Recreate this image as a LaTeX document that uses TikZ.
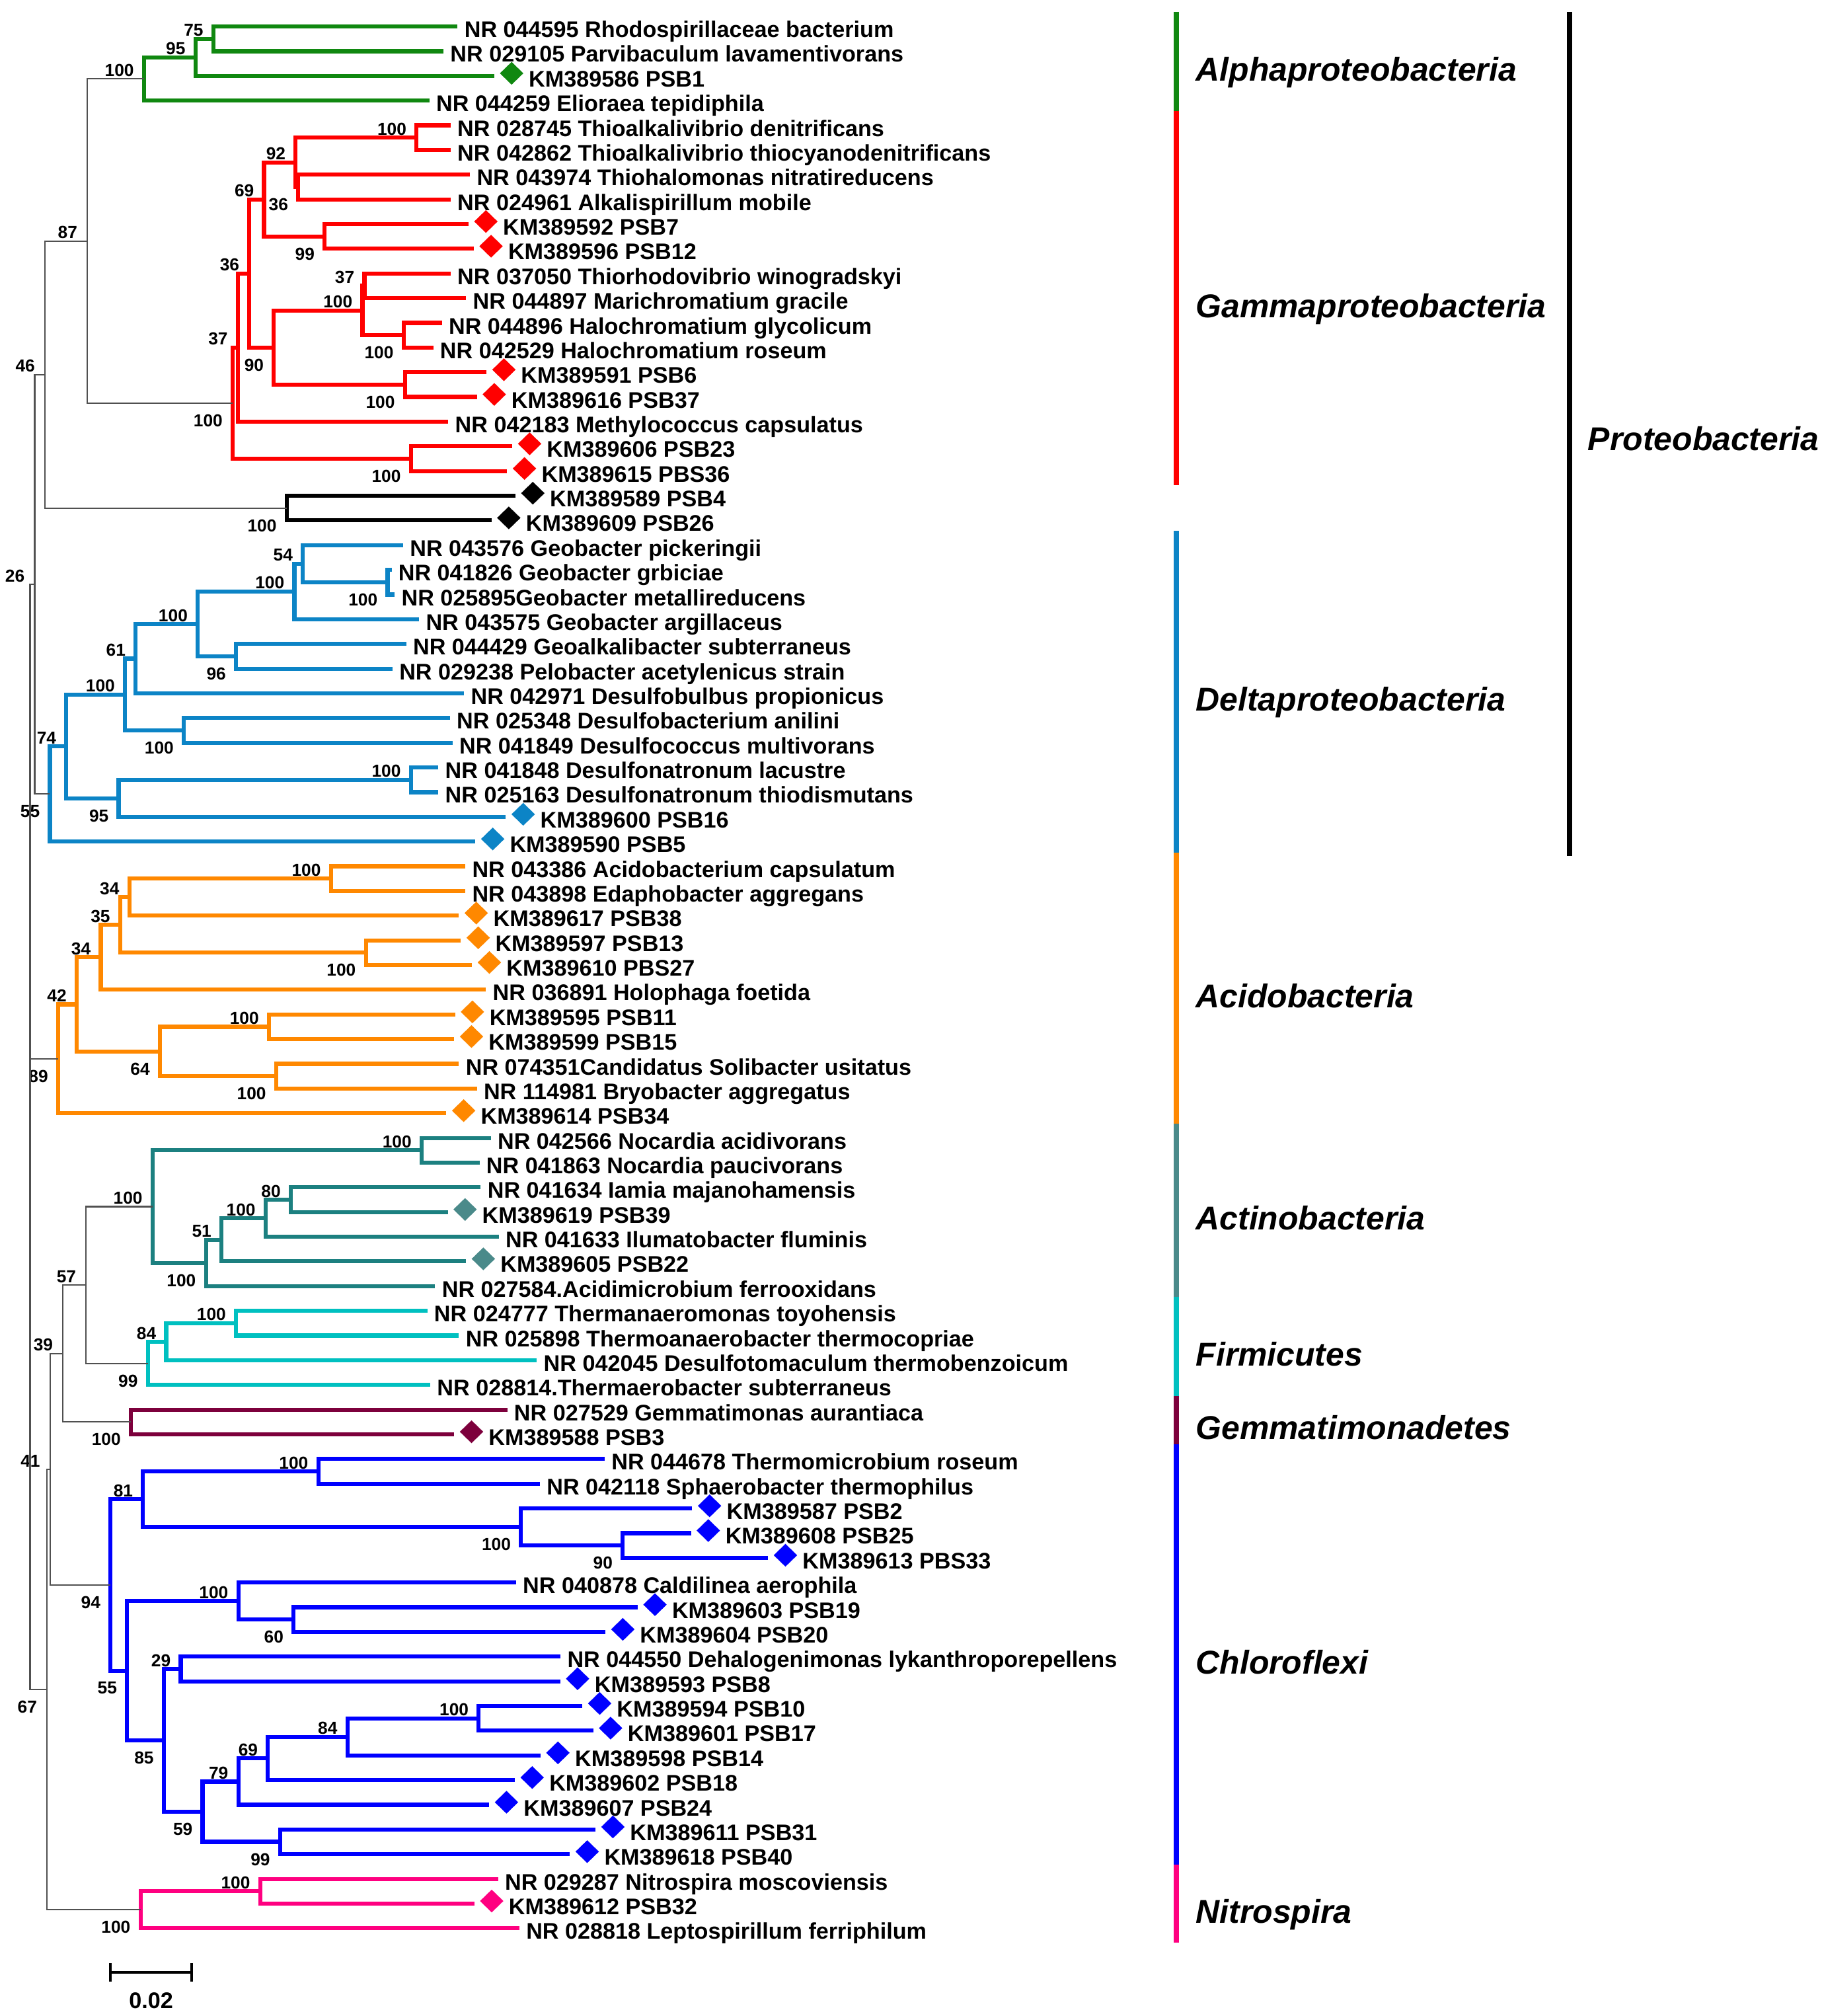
\documentclass[tikz,border=0pt]{standalone}
\usepackage{fontspec}
\setmainfont{Liberation Sans}
\usetikzlibrary{calc, shapes.geometric}
\definecolor{alphaColor}{RGB}{16,136,16}
\definecolor{gammaColor}{RGB}{255,0,0}
\definecolor{deltaColor}{RGB}{12,132,198}
\definecolor{acidoColor}{RGB}{255,136,0}
\definecolor{actinoColor}{RGB}{28,128,128}
\definecolor{actinoMark}{RGB}{74,138,138}
\definecolor{firmColor}{RGB}{0,192,192}
\definecolor{gemmaColor}{RGB}{125,0,60}
\definecolor{chloroColor}{RGB}{0,0,255}
\definecolor{nitroColor}{RGB}{255,0,128}
\definecolor{backboneColor}{RGB}{80,80,80}
\tikzstyle{treeFrame} = [x = .02cm, y = -.02cm]
\tikzstyle{backbone} = [color=backboneColor, line width=.6pt]
\tikzstyle{cladeLine} = [line width=1.8pt]
\tikzstyle{leafText} = [anchor=base west, inner sep=0pt, font=\fontsize{10}{12}\selectfont\bfseries]
\tikzstyle{sampleMark} = [diamond, inner sep=0pt, minimum width=.37cm, minimum height=.36cm]
\tikzstyle{bootUp} = [anchor=south east, inner sep=0pt, xshift=-.15cm, yshift=.03cm, font=\fontsize{7.7}{9}\selectfont\bfseries]
\tikzstyle{bootDown} = [anchor=north east, inner sep=0pt, xshift=-.15cm, yshift=-.17cm, font=\fontsize{7.7}{9}\selectfont\bfseries]
\tikzstyle{classBarLine} = [line width=.084cm]
\tikzstyle{classText} = [anchor=base west, inner sep=0pt, font=\fontsize{14.6}{17}\selectfont\bfseries\itshape]
\tikzstyle{scaleBar} = [line width=.04cm]
\newcommand{\leafY}[1]{20.6 + 19.21 * (#1 - 1)}
\newcommand{\leaf}[3]{
  \coordinate (l#1) at (#2, {\leafY{#1}});
  \node [leafText] (t#1) at ([xshift=.1cm, yshift=-.17cm] l#1) {#3};
}
\newcommand{\sampleLeaf}[4]{
  \coordinate (l#1) at (#2, {\leafY{#1}});
  \node [sampleMark, fill=#3] (m#1) at ([xshift=.27cm, yshift=.04cm] l#1) {};
  \node [leafText] (t#1) at ([xshift=.53cm, yshift=-.17cm] l#1) {#4};
}
\newcommand{\clade}[7]{
  \path ($(#3)!.5!(#4)$) coordinate (mid#1);
  \coordinate (#1) at (#2,0|-mid#1);
  \draw [#5] (#3) -| (#1) |- (#4);
  \node [#7] (b#1) at (#1) {#6};
}
\newcommand{\classBar}[5]{
  \draw [classBarLine, #2] (915, #3) coordinate (#1Top) -- (915, #4) coordinate (#1Bottom);
  \node [classText] (#1Text) at ($(#1Top)!.5!(#1Bottom) + (15, 15)$) {#5};
}
\begin{document}
\begin{tikzpicture}[treeFrame]
  \useasboundingbox (0,0) rectangle (1417,1568);
  \leaf{1}{356}{NR 044595 Rhodospirillaceae bacterium}
  \leaf{2}{345}{NR 029105 Parvibaculum lavamentivorans}
  \sampleLeaf{3}{384.5}{alphaColor}{KM389586 PSB1}
  \leaf{4}{334}{NR 044259 Elioraea tepidiphila}
  \leaf{5}{350.5}{NR 028745 Thioalkalivibrio denitrificans}
  \leaf{6}{350.5}{NR 042862 Thioalkalivibrio thiocyanodenitrificans}
  \leaf{7}{365.6}{NR 043974 Thiohalomonas nitratireducens}
  \leaf{8}{350.5}{NR 024961 Alkalispirillum mobile}
  \sampleLeaf{9}{364.5}{gammaColor}{KM389592 PSB7}
  \sampleLeaf{10}{368.5}{gammaColor}{KM389596 PSB12}
  \leaf{11}{350.5}{NR 037050 Thiorhodovibrio winogradskyi}
  \leaf{12}{362.6}{NR 044897 Marichromatium gracile}
  \leaf{13}{343.8}{NR 044896 Halochromatium glycolicum}
  \leaf{14}{337}{NR 042529 Halochromatium roseum}
  \sampleLeaf{15}{378.5}{gammaColor}{KM389591 PSB6}
  \sampleLeaf{16}{371}{gammaColor}{KM389616 PSB37}
  \leaf{17}{348.7}{NR 042183 Methylococcus capsulatus}
  \sampleLeaf{18}{398.5}{gammaColor}{KM389606 PSB23}
  \sampleLeaf{19}{394.5}{gammaColor}{KM389615 PBS36}
  \sampleLeaf{20}{401}{black}{KM389589 PSB4}
  \sampleLeaf{21}{382.3}{black}{KM389609 PSB26}
  \leaf{22}{313.6}{NR 043576 Geobacter pickeringii}
  \leaf{23}{304.6}{NR 041826 Geobacter grbiciae}
  \leaf{24}{307}{NR 025895Geobacter metallireducens}
  \leaf{25}{326}{NR 043575 Geobacter argillaceus}
  \leaf{26}{316}{NR 044429 Geoalkalibacter subterraneus}
  \leaf{27}{305.3}{NR 029238 Pelobacter acetylenicus strain}
  \leaf{28}{361}{NR 042971 Desulfobulbus propionicus}
  \leaf{29}{350}{NR 025348 Desulfobacterium anilini}
  \leaf{30}{352}{NR 041849 Desulfococcus multivorans}
  \leaf{31}{341}{NR 041848 Desulfonatronum lacustre}
  \leaf{32}{341}{NR 025163 Desulfonatronum thiodismutans}
  \sampleLeaf{33}{393.5}{deltaColor}{KM389600 PSB16}
  \sampleLeaf{34}{369.8}{deltaColor}{KM389590 PSB5}
  \leaf{35}{362}{NR 043386 Acidobacterium capsulatum}
  \leaf{36}{362}{NR 043898 Edaphobacter aggregans}
  \sampleLeaf{37}{357}{acidoColor}{KM389617 PSB38}
  \sampleLeaf{38}{358.5}{acidoColor}{KM389597 PSB13}
  \sampleLeaf{39}{367.2}{acidoColor}{KM389610 PBS27}
  \leaf{40}{378}{NR 036891 Holophaga foetida}
  \sampleLeaf{41}{354}{acidoColor}{KM389595 PSB11}
  \sampleLeaf{42}{353.3}{acidoColor}{KM389599 PSB15}
  \leaf{43}{357}{NR 074351Candidatus Solibacter usitatus}
  \leaf{44}{371}{NR 114981 Bryobacter aggregatus}
  \sampleLeaf{45}{347.2}{acidoColor}{KM389614 PSB34}
  \leaf{46}{381.8}{NR 042566 Nocardia acidivorans}
  \leaf{47}{373}{NR 041863 Nocardia paucivorans}
  \leaf{48}{374}{NR 041634 Iamia majanohamensis}
  \sampleLeaf{49}{348.3}{actinoMark}{KM389619 PSB39}
  \leaf{50}{388}{NR 041633 Ilumatobacter fluminis}
  \sampleLeaf{51}{362.5}{actinoMark}{KM389605 PSB22}
  \leaf{52}{338.5}{NR 027584.Acidimicrobium ferrooxidans}
  \leaf{53}{332.4}{NR 024777 Thermanaeromonas toyohensis}
  \leaf{54}{357}{NR 025898 Thermoanaerobacter thermocopriae}
  \leaf{55}{417.6}{NR 042045 Desulfotomaculum thermobenzoicum}
  \leaf{56}{334.7}{NR 028814.Thermaerobacter subterraneus}
  \leaf{57}{394.6}{NR 027529 Gemmatimonas aurantiaca}
  \sampleLeaf{58}{353.3}{gemmaColor}{KM389588 PSB3}
  \leaf{59}{470.4}{NR 044678 Thermomicrobium roseum}
  \leaf{60}{420}{NR 042118 Sphaerobacter thermophilus}
  \sampleLeaf{61}{538.5}{chloroColor}{KM389587 PSB2}
  \sampleLeaf{62}{537.5}{chloroColor}{KM389608 PSB25}
  \sampleLeaf{63}{597.5}{chloroColor}{KM389613 PBS33}
  \leaf{64}{401.4}{NR 040878 Caldilinea aerophila}
  \sampleLeaf{65}{496}{chloroColor}{KM389603 PSB19}
  \sampleLeaf{66}{471}{chloroColor}{KM389604 PSB20}
  \leaf{67}{436}{NR 044550 Dehalogenimonas lykanthroporepellens}
  \sampleLeaf{68}{435.8}{chloroColor}{KM389593 PSB8}
  \sampleLeaf{69}{453}{chloroColor}{KM389594 PSB10}
  \sampleLeaf{70}{461.5}{chloroColor}{KM389601 PSB17}
  \sampleLeaf{71}{420.5}{chloroColor}{KM389598 PSB14}
  \sampleLeaf{72}{400.5}{chloroColor}{KM389602 PSB18}
  \sampleLeaf{73}{380.5}{chloroColor}{KM389607 PSB24}
  \sampleLeaf{74}{463.3}{chloroColor}{KM389611 PSB31}
  \sampleLeaf{75}{443.3}{chloroColor}{KM389618 PSB40}
  \leaf{76}{387.5}{NR 029287 Nitrospira moscoviensis}
  \sampleLeaf{77}{369}{nitroColor}{KM389612 PSB32}
  \leaf{78}{404}{NR 028818 Leptospirillum ferriphilum}

  \clade{a75}{166}{l1}{l2}{cladeLine, alphaColor}{75}{bootUp}
  \clade{a95}{152}{a75}{l3}{cladeLine, alphaColor}{95}{bootUp}
  \clade{aRoot}{112}{a95}{l4}{cladeLine, alphaColor}{100}{bootUp}
  \clade{g100a}{324}{l5}{l6}{cladeLine, gammaColor}{100}{bootUp}
  \clade{g36a}{232}{l7}{l8}{cladeLine, gammaColor}{36}{bootDown}
  \clade{g92}{230}{g100a}{g36a}{cladeLine, gammaColor}{92}{bootUp}
  \clade{g99}{252.5}{l9}{l10}{cladeLine, gammaColor}{99}{bootDown}
  \clade{g69}{205.4}{g92}{g99}{cladeLine, gammaColor}{69}{bootUp}
  \clade{g37a}{283.5}{l11}{l12}{cladeLine, gammaColor}{37}{bootUp}
  \clade{g100c}{314}{l13}{l14}{cladeLine, gammaColor}{100}{bootDown}
  \clade{g100b}{282}{g37a}{g100c}{cladeLine, gammaColor}{100}{bootUp}
  \clade{g100d}{315}{l15}{l16}{cladeLine, gammaColor}{100}{bootDown}
  \clade{g90}{213}{g100b}{g100d}{cladeLine, gammaColor}{90}{bootDown}
  \clade{g36b}{194}{g69}{g90}{cladeLine, gammaColor}{36}{bootUp}
  \clade{g37b}{185}{g36b}{l17}{cladeLine, gammaColor}{37}{bootUp}
  \clade{g100e}{319.6}{l18}{l19}{cladeLine, gammaColor}{100}{bootDown}
  \clade{gRoot}{181}{g37b}{g100e}{cladeLine, gammaColor}{100}{bootDown}
  \clade{bRoot}{223}{l20}{l21}{cladeLine, black}{100}{bootDown}
  \clade{n87}{68}{aRoot}{gRoot}{backbone}{87}{bootUp}
  \clade{n46}{35}{n87}{bRoot}{backbone}{46}{bootUp}

  \clade{d100g}{301.5}{l23}{l24}{cladeLine, deltaColor}{100}{bootDown}
  \clade{d54}{235.6}{l22}{d100g}{cladeLine, deltaColor}{54}{bootUp}
  \clade{d100h}{229}{d54}{l25}{cladeLine, deltaColor}{100}{bootUp}
  \clade{d96}{183.6}{l26}{l27}{cladeLine, deltaColor}{96}{bootDown}
  \clade{d100i}{153.8}{d100h}{d96}{cladeLine, deltaColor}{100}{bootUp}
  \clade{d61}{105.5}{d100i}{l28}{cladeLine, deltaColor}{61}{bootUp}
  \clade{d100j}{143}{l29}{l30}{cladeLine, deltaColor}{100}{bootDown}
  \clade{d100k}{97.2}{d61}{d100j}{cladeLine, deltaColor}{100}{bootUp}
  \clade{d100l}{319.6}{l31}{l32}{cladeLine, deltaColor}{100}{bootUp}
  \clade{d95}{92.3}{d100l}{l33}{cladeLine, deltaColor}{95}{bootDown}
  \clade{d74}{51.6}{d100k}{d95}{cladeLine, deltaColor}{74}{bootUp}
  \clade{dRoot}{38.8}{d74}{l34}{cladeLine, deltaColor}{55}{bootDown}
  \clade{n26}{27}{n46}{dRoot}{backbone}{26}{bootUp}

  \clade{ac100a}{257.4}{l35}{l36}{cladeLine, acidoColor}{100}{bootUp}
  \clade{ac34a}{100.6}{ac100a}{l37}{cladeLine, acidoColor}{34}{bootUp}
  \clade{ac100b}{284.6}{l38}{l39}{cladeLine, acidoColor}{100}{bootDown}
  \clade{ac35}{93.5}{ac34a}{ac100b}{cladeLine, acidoColor}{35}{bootUp}
  \clade{ac34b}{78.4}{ac35}{l40}{cladeLine, acidoColor}{34}{bootUp}
  \clade{ac100c}{209.2}{l41}{l42}{cladeLine, acidoColor}{100}{bootUp}
  \clade{ac100d}{214.8}{l43}{l44}{cladeLine, acidoColor}{100}{bootDown}
  \clade{ac64}{124.4}{ac100c}{ac100d}{cladeLine, acidoColor}{64}{bootDown}
  \clade{ac42}{59.6}{ac34b}{ac64}{cladeLine, acidoColor}{42}{bootUp}
  \clade{acRoot}{45.2}{ac42}{l45}{cladeLine, acidoColor}{89}{bootDown}

  \clade{at100a}{328}{l46}{l47}{cladeLine, actinoColor}{100}{bootUp}
  \clade{at80}{226.2}{l48}{l49}{cladeLine, actinoColor}{80}{bootUp}
  \clade{at100b}{206.6}{at80}{l50}{cladeLine, actinoColor}{100}{bootUp}
  \clade{at51}{172.3}{at100b}{l51}{cladeLine, actinoColor}{51}{bootUp}
  \clade{at100c}{160.2}{at51}{l52}{cladeLine, actinoColor}{100}{bootDown}
  \clade{atRoot}{118.7}{at100a}{at100c}{cladeLine, actinoColor}{100}{bootUp}
  \clade{fi100}{183.6}{l53}{l54}{cladeLine, firmColor}{100}{bootUp}
  \clade{fi84}{129.3}{fi100}{l55}{cladeLine, firmColor}{84}{bootUp}
  \clade{fiRoot}{115}{fi84}{l56}{cladeLine, firmColor}{99}{bootDown}
  \clade{n57}{67}{atRoot}{fiRoot}{backbone}{57}{bootUp}
  \clade{geRoot}{101.8}{l57}{l58}{cladeLine, gemmaColor}{100}{bootDown}
  \clade{n39}{49}{n57}{geRoot}{backbone}{39}{bootUp}

  \clade{ch100a}{247.6}{l59}{l60}{cladeLine, chloroColor}{100}{bootUp}
  \clade{ch90}{484.4}{l62}{l63}{cladeLine, chloroColor}{90}{bootDown}
  \clade{ch100b}{405.2}{l61}{ch90}{cladeLine, chloroColor}{100}{bootDown}
  \clade{ch81}{111.2}{ch100a}{ch100b}{cladeLine, chloroColor}{81}{bootUp}
  \clade{ch60}{228.4}{l65}{l66}{cladeLine, chloroColor}{60}{bootDown}
  \clade{ch100c}{185.4}{l64}{ch60}{cladeLine, chloroColor}{100}{bootUp}
  \clade{ch29}{140.6}{l67}{l68}{cladeLine, chloroColor}{29}{bootUp}
  \clade{ch100d}{372.4}{l69}{l70}{cladeLine, chloroColor}{100}{bootUp}
  \clade{ch84}{270.3}{ch100d}{l71}{cladeLine, chloroColor}{84}{bootUp}
  \clade{ch69}{208.4}{ch84}{l72}{cladeLine, chloroColor}{69}{bootUp}
  \clade{ch79}{185.4}{ch69}{l73}{cladeLine, chloroColor}{79}{bootUp}
  \clade{ch99}{217.9}{l74}{l75}{cladeLine, chloroColor}{99}{bootDown}
  \clade{ch59}{157.6}{ch79}{ch99}{cladeLine, chloroColor}{59}{bootDown}
  \clade{ch85}{127.4}{ch29}{ch59}{cladeLine, chloroColor}{85}{bootDown}
  \clade{ch55}{98.8}{ch100c}{ch85}{cladeLine, chloroColor}{55}{bootDown}
  \clade{chRoot}{86}{ch81}{ch55}{cladeLine, chloroColor}{94}{bootDown}
  \clade{n41}{39}{n39}{chRoot}{backbone}{41}{bootUp}
  \clade{ni100}{202.4}{l76}{l77}{cladeLine, nitroColor}{100}{bootUp}
  \clade{niRoot}{109.3}{ni100}{l78}{cladeLine, nitroColor}{100}{bootDown}
  \clade{n67}{36.6}{n41}{niRoot}{backbone}{67}{bootDown}

  \path ($(n26)!.5!(n67)$) coordinate (midRoot);
  \coordinate (root) at (23.4,0|-midRoot);
  \draw [backbone] (n26) -| (root) |- (n67);
  \draw [backbone] (root|-acRoot) -- (acRoot);

  \classBar{alpha}{alphaColor}{9.2}{86.5}{Alphaproteobacteria}
  \classBar{gamma}{gammaColor}{86.5}{377.6}{Gammaproteobacteria}
  \classBar{delta}{deltaColor}{412.9}{663}{Deltaproteobacteria}
  \classBar{acido}{acidoColor}{663}{874.2}{Acidobacteria}
  \classBar{actino}{actinoMark}{874.2}{1008.6}{Actinobacteria}
  \classBar{firm}{firmColor}{1008.6}{1085.7}{Firmicutes}
  \classBar{gemma}{gemmaColor}{1085.7}{1123.4}{Gemmatimonadetes}
  \classBar{chloro}{chloroColor}{1123.4}{1450.5}{Chloroflexi}
  \classBar{nitro}{nitroColor}{1450.5}{1511}{Nitrospira}
  \draw [classBarLine, black] (1221, 9.2) coordinate (proteoTop) -- (1221, 665.6) coordinate (proteoBottom);
  \node [classText] (proteoText) at ($(proteoTop)!.5!(proteoBottom) + (14, 13)$) {Proteobacteria};

  \coordinate (barLeft) at (86, 1534);
  \coordinate (barRight) at (149.3, 1534);
  \draw [scaleBar] (barLeft) -- (barRight);
  \draw [scaleBar] ([yshift=.14cm] barLeft) -- ([yshift=-.14cm] barLeft);
  \draw [scaleBar] ([yshift=.14cm] barRight) -- ([yshift=-.14cm] barRight);
  \node [font=\fontsize{10}{12}\selectfont\bfseries, inner sep=0pt] (barText) at (117.6, 1556) {0.02};
\end{tikzpicture}
\end{document}
